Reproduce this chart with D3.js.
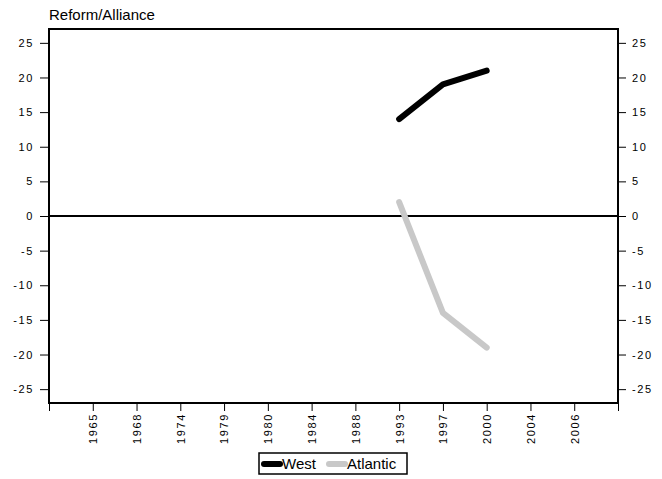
<!DOCTYPE html>
<html>
<head>
<meta charset="utf-8">
<script src="https://cdn.jsdelivr.net/npm/d3@7"></script>
<style>
  html, body { margin: 0; padding: 0; background: #fff; }
  svg { display: block; font-family: "Liberation Sans", Arial, sans-serif; }
</style>
</head>
<body>
<svg id="chart" width="662" height="479"></svg>
<script>
const title = "Reform/Alliance";
const years = ["1965","1968","1974","1979","1980","1984","1988","1993","1997","2000","2004","2006"];
const yTicks = [-25,-20,-15,-10,-5,0,5,10,15,20,25];
const westYears = ["1993","1997","2000"];
const westValues = [14, 19, 21];
const atlanticYears = ["1993","1997","2000"];
const atlanticValues = [2, -14, -19];
const seriesNames = ["West", "Atlantic"];
const seriesColors = ["#000000", "#c8c8c8"];

const svg = d3.select("#chart");
const pLeft = 49, pRight = 618, pTop = 29, pBottom = 403;

const x = d3.scalePoint().domain(years).range([pLeft, pRight]).padding(1);
const y = d3.scaleLinear().domain([-27, 27]).range([pBottom, pTop]);
const fmt = d => String(d);

const tickStyle = g => {
  g.selectAll("text").attr("font-size", 11).attr("fill", "#000")
    .style("letter-spacing", "1.6px");
  g.selectAll("line").attr("stroke", "#000").attr("stroke-width", 1);
};

// left axis
svg.append("g").attr("transform", `translate(${pLeft},0)`)
  .call(d3.axisLeft(y).tickValues(yTicks).tickFormat(fmt).tickSize(9).tickSizeOuter(0).tickPadding(6))
  .call(g => g.select(".domain").remove())
  .call(tickStyle);

// right axis
svg.append("g").attr("transform", `translate(${pRight},0)`)
  .call(d3.axisRight(y).tickValues(yTicks).tickFormat(fmt).tickSize(8).tickSizeOuter(0).tickPadding(6))
  .call(g => g.select(".domain").remove())
  .call(tickStyle);

// bottom axis
const xa = svg.append("g").attr("transform", `translate(0,${pBottom})`)
  .call(d3.axisBottom(x).tickSize(8).tickSizeOuter(8).tickPadding(2))
  .call(tickStyle);
xa.select(".domain").attr("stroke", "#000").attr("stroke-width", 1);
xa.selectAll("text")
  .attr("transform", "rotate(-90)")
  .attr("text-anchor", "end")
  .attr("x", -10)
  .attr("y", 0)
  .attr("dy", "0.35em");

// frame
svg.append("rect")
  .attr("x", pLeft).attr("y", pTop)
  .attr("width", pRight - pLeft).attr("height", pBottom - pTop)
  .attr("fill", "none").attr("stroke", "#000").attr("stroke-width", 2);

// zero line
svg.append("line")
  .attr("x1", pLeft).attr("x2", pRight)
  .attr("y1", y(0)).attr("y2", y(0))
  .attr("stroke", "#000").attr("stroke-width", 1.8);

// series
const line = d3.line().x(d => x(d[0])).y(d => y(d[1]));
const series = [
  westYears.map((yr, i) => [yr, westValues[i]]),
  atlanticYears.map((yr, i) => [yr, atlanticValues[i]])
];
series.forEach((s, i) => {
  svg.append("path")
    .datum(s)
    .attr("d", line)
    .attr("fill", "none")
    .attr("stroke", seriesColors[i])
    .attr("stroke-width", 6)
    .attr("stroke-linecap", "round")
    .attr("stroke-linejoin", "round");
});

// title
svg.append("text")
  .attr("x", 49).attr("y", 20)
  .attr("font-size", 15).attr("fill", "#000")
  .text(title);

// legend
const lg = svg.append("g");
lg.append("rect")
  .attr("x", 259).attr("y", 453).attr("width", 148).attr("height", 21)
  .attr("fill", "#fff").attr("stroke", "#000").attr("stroke-width", 1.5);
const legendPos = [262, 327];
seriesNames.forEach((name, i) => {
  lg.append("line")
    .attr("x1", legendPos[i] + 2).attr("x2", legendPos[i] + 18)
    .attr("y1", 464).attr("y2", 464)
    .attr("stroke", seriesColors[i]).attr("stroke-width", 6)
    .attr("stroke-linecap", "round");
  lg.append("text")
    .attr("x", legendPos[i] + 20).attr("y", 469)
    .attr("font-size", 15).attr("fill", "#000")
    .text(name);
});
</script>
</body>
</html>
